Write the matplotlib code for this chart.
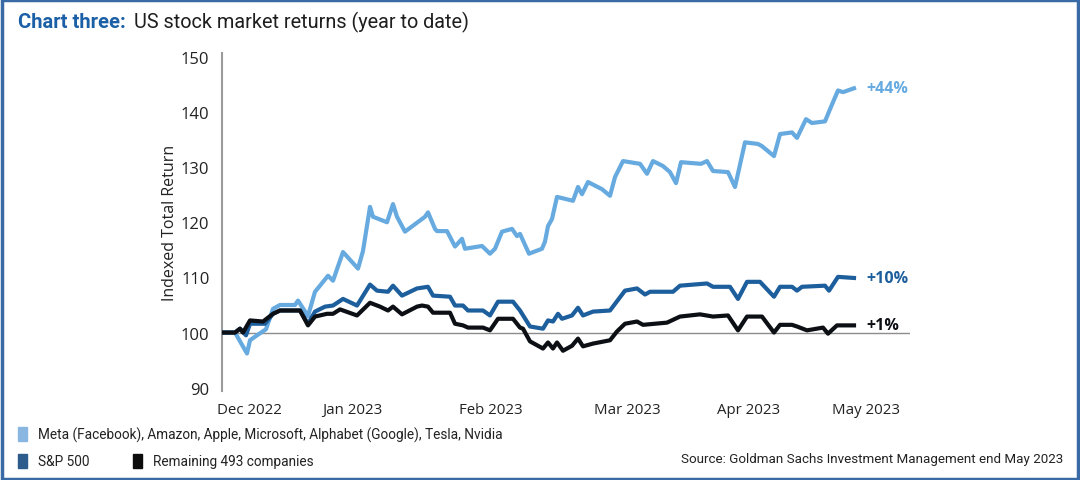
import matplotlib.pyplot as plt
from matplotlib.patches import Rectangle

# x = trading days since start of Dec 2022
big7_x = [0, 2.4, 4.8, 5.4, 6.8, 8.6, 10, 11.4, 14.4, 15, 17, 18.4, 19.4, 21, 22, 24, 27, 28,
          29.4, 30, 32.8, 34, 34.8, 36.4, 40.4, 41, 42.4, 42.8, 44.8, 46.4, 47.8, 48.4, 51.8,
          53.4, 54.4, 55.8, 57.8, 58.8, 59.4, 61.2, 63.8, 64.4, 65, 65.8, 66.8, 70, 71, 71.8,
          73, 75.8, 77.4, 78.4, 80, 83.4, 84.8, 86, 88, 89.4, 90.6, 91.6, 95.6, 96.8, 98, 101,
          102.4, 104.4, 107, 107.8, 110.2, 111.4, 113.8, 114.8, 116.6, 117.8, 120.4, 121.4,
          123, 124, 126.2]
big7_y = [100, 100, 96.2, 98.6, 99.5, 100.6, 104.3, 105, 105, 105.8, 103, 107.4, 108.5, 110.3,
          109.4, 114.6, 111.6, 114.8, 122.8, 121, 120, 123.3, 121, 118.3, 121, 121.8, 118.8,
          118.4, 118.4, 115.6, 117, 115.2, 115.7, 114.3, 115.2, 118.3, 118.8, 117.5, 117.9,
          114.3, 115.2, 116.5, 119.3, 120.6, 124.6, 123.9, 126.4, 125.1, 127.3, 126, 124.8,
          128.2, 131.1, 130.6, 128.8, 131.1, 130.2, 129.1, 127.1, 130.9, 130.6, 131.1, 129.3,
          129.1, 126.4, 134.5, 134.2, 133.8, 132, 136, 136.3, 135.3, 138.7, 138, 138.3, 140.5,
          143.9, 143.6, 144.3]

spx_x = [0, 2.4, 3.4, 4.6, 5.4, 8.4, 10, 11.4, 15.4, 17, 18.4, 20.4, 22, 24, 26.8, 29.4, 30.8,
         33, 34, 35.8, 38.8, 41, 42, 45.4, 46.4, 48, 49, 52, 53.4, 55, 58, 59.4, 61.4, 64, 65,
         66, 67, 67.8, 69.8, 71, 72, 74, 77.4, 78.4, 80.4, 82.8, 84.4, 85.4, 90, 91.4, 96.8,
         98, 101.4, 103, 104.8, 107.4, 110.2, 111.4, 113.8, 114.8, 115.8, 120.4, 121.2, 123,
         126.2]
spx_y = [100, 100, 100.7, 99.5, 101.6, 101.6, 103.4, 104, 104, 101.6, 103.8, 104.7, 104.9,
         106.1, 104.9, 108.7, 107.6, 107.4, 108.5, 106.7, 108, 108.3, 106.7, 106.5, 104.9,
         104.9, 104, 104, 103.1, 105.6, 105.6, 104, 101.1, 100.7, 102.2, 102, 103.4, 102.5,
         103.1, 104.5, 103.1, 103.8, 104, 105.2, 107.6, 108, 106.9, 107.4, 107.4, 108.5,
         108.9, 108.3, 108.3, 106.1, 109.2, 109.2, 106.5, 108.3, 108.3, 107.6, 108.3, 108.5,
         107.6, 110.1, 109.9]

rest_x = [0, 2.4, 3.4, 4, 5.4, 8, 10, 11.4, 15.4, 17, 18.4, 20.8, 22, 23.4, 26.8, 29.4, 31.4,
          33, 34, 35.8, 38.8, 39.8, 41, 42, 45.4, 46.4, 48, 49, 52, 53.4, 55, 58, 59.4, 60,
          61.4, 64, 65, 66, 66.8, 68, 69.8, 71, 72, 74, 77.4, 78.8, 80.4, 82.8, 84, 88.8,
          91.4, 95.4, 98, 101, 103, 104.8, 107.8, 110.2, 111.4, 113.8, 114.8, 116.8, 120, 121,
          122.8, 126.2]
rest_y = [100, 100, 100.7, 100, 102.2, 102, 103.4, 104, 104, 101.3, 102.9, 103.4, 103.4,
          104.2, 103.1, 105.4, 104.7, 104, 104.7, 103.3, 104.7, 104.9, 104.7, 103.6, 103.6,
          101.6, 101.3, 100.9, 100.9, 100.4, 102.5, 102.5, 100.9, 100.7, 98.4, 97.1, 98.2,
          97.1, 98.2, 96.7, 97.6, 98.9, 97.5, 98, 98.6, 100.2, 101.6, 102, 101.4, 101.8, 102.9,
          103.3, 102.9, 103.1, 100.4, 102.9, 102.9, 100, 101.4, 101.4, 101.1, 100.4, 100.9,
          99.8, 101.3, 101.3]

month_pos = [5.2, 25.8, 53.6, 80.8, 105.2, 128.6]
month_labels = ['Dec 2022', 'Jan 2023', 'Feb 2023', 'Mar 2023', 'Apr 2023', 'May 2023']

series_names = ['Meta (Facebook), Amazon, Apple, Microsoft, Alphabet (Google), Tesla, Nvidia',
                'S&P 500', 'Remaining 493 companies']
end_labels = ['+44%', '+10%', '+1%']

c_light = '#66aae0'
c_mid = '#1d5e9c'
c_dark = '#0c0f14'
c_title = '#1b5fa6'

W, H = 1080, 481
fig = plt.figure(figsize=(W / 100, H / 100), dpi=100)


def fx(x):
    return x / W


def fy(y):
    return 1 - y / H


ax = fig.add_axes([fx(222), fy(392), (910 - 222) / W, (392 - 54) / H])
ax.axhline(100, color='#8c8c8c', lw=1.0, zorder=1)
ax.plot(big7_x, big7_y, color=c_light, lw=3.0, solid_joinstyle='round', zorder=3)
ax.plot(spx_x, spx_y, color=c_mid, lw=3.0, solid_joinstyle='round', zorder=4)
ax.plot(rest_x, rest_y, color=c_dark, lw=3.0, solid_joinstyle='round', zorder=5)

ax.set_xlim(-0.2, 137.4)
ax.set_ylim(89.4, 150.7)
ax.set_yticks([90, 100, 110, 120, 130, 140, 150])
ax.set_xticks(month_pos)
ax.set_xticklabels(month_labels)
ax.tick_params(length=0, labelsize=10.8, colors='#222222', pad=8)
ax.tick_params(axis='y', labelsize=12, pad=9)
for lab in ax.get_xticklabels() + ax.get_yticklabels():
    lab.set_family('Open Sans')
for s in ['top', 'right', 'bottom']:
    ax.spines[s].set_visible(False)
ax.spines['left'].set_color('#9a9a9a')
ax.spines['left'].set_linewidth(1.5)
ax.set_ylabel('Indexed Total Return', fontsize=11.5, family='Open Sans', color='#222222',
              labelpad=2)

for lab, yv, col in zip(end_labels, [big7_y[-1], spx_y[-1], rest_y[-1]],
                        [c_light, c_mid, c_dark]):
    ax.text(128.6, yv, lab, color=col, fontsize=11.5, fontweight='bold', family='Open Sans',
            va='center', ha='left')

# title
fig.text(fx(18), fy(22), 'Chart three:', color=c_title, fontsize=14.5, fontweight='bold',
         family='Roboto', va='center', ha='left')
fig.text(fx(134), fy(22), 'US stock market returns (year to date)', color='#1e1e1e',
         fontsize=14.3, family='Roboto', va='center', ha='left')

# legend
sw_cols = ['#8ab6e2', '#2d5b8c', '#0c0c0c']
sw_pos = [(18, 435), (18, 462), (133, 462)]
for (sx, sy), col, name in zip(sw_pos, sw_cols, series_names):
    fig.patches.append(Rectangle((fx(sx), fy(sy + 7)), 9 / W, 14 / H, color=col,
                                 transform=fig.transFigure, figure=fig))
    fig.text(fx(sx + 20), fy(sy), name, fontsize=9.8, family='Roboto', color='#222222',
             va='center', ha='left')

fig.text(fx(1063), fy(460), 'Source: Goldman Sachs Investment Management end May 2023',
         fontsize=9.6, family='Roboto', color='#222222', va='center', ha='right')

# frame
fig.patches.append(Rectangle((0.002, 0.003), 0.996, 0.994, fill=False, edgecolor='#3a6aa5',
                             lw=2.5, transform=fig.transFigure, figure=fig))

fig.savefig('out.png', dpi=100)
